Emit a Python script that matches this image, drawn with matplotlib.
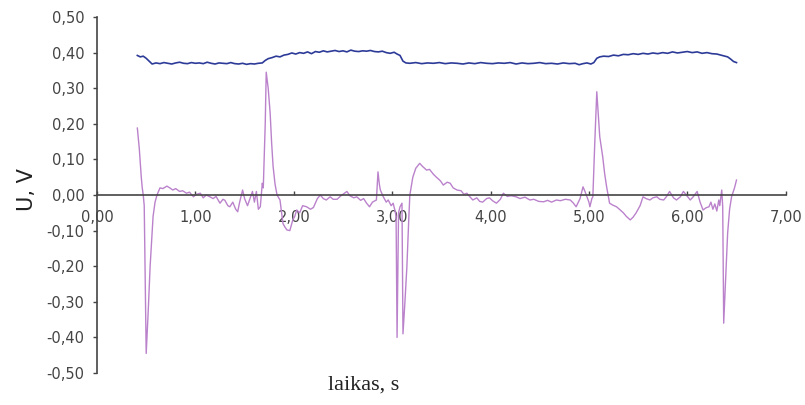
import numpy as np
import matplotlib
matplotlib.use('Agg')
import matplotlib.pyplot as plt
from matplotlib.ticker import FuncFormatter

# upper trace (blue), (time s, voltage V)
blue_pts = [
    (0.41, 0.392), (0.44, 0.388), (0.47, 0.390), (0.50, 0.384), (0.53, 0.376), (0.56, 0.368),
    (0.60, 0.371), (0.64, 0.369), (0.68, 0.372), (0.72, 0.370), (0.76, 0.368), (0.80, 0.371),
    (0.84, 0.373), (0.88, 0.370), (0.92, 0.369), (0.96, 0.372), (1.00, 0.370), (1.04, 0.371),
    (1.08, 0.369), (1.12, 0.373), (1.16, 0.370), (1.20, 0.368), (1.24, 0.371), (1.28, 0.370),
    (1.32, 0.369), (1.36, 0.372), (1.40, 0.369), (1.44, 0.368), (1.48, 0.370), (1.52, 0.367),
    (1.56, 0.369), (1.60, 0.368), (1.64, 0.370), (1.68, 0.371), (1.71, 0.378), (1.74, 0.383),
    (1.78, 0.386), (1.82, 0.390), (1.86, 0.388), (1.90, 0.393), (1.94, 0.395), (1.98, 0.399),
    (2.02, 0.396), (2.06, 0.400), (2.10, 0.398), (2.14, 0.402), (2.18, 0.397), (2.22, 0.403),
    (2.26, 0.401), (2.30, 0.405), (2.34, 0.402), (2.38, 0.404), (2.42, 0.406), (2.46, 0.403),
    (2.50, 0.405), (2.54, 0.402), (2.58, 0.407), (2.62, 0.404), (2.66, 0.403), (2.70, 0.405),
    (2.74, 0.404), (2.78, 0.406), (2.82, 0.403), (2.86, 0.402), (2.90, 0.404), (2.94, 0.400),
    (2.98, 0.398), (3.02, 0.401), (3.05, 0.396), (3.08, 0.392), (3.11, 0.376), (3.14, 0.371),
    (3.18, 0.370), (3.24, 0.372), (3.30, 0.369), (3.36, 0.371), (3.42, 0.370), (3.48, 0.372),
    (3.54, 0.369), (3.60, 0.371), (3.66, 0.370), (3.72, 0.368), (3.78, 0.371), (3.84, 0.369),
    (3.90, 0.372), (3.96, 0.370), (4.02, 0.369), (4.08, 0.371), (4.14, 0.370), (4.20, 0.372),
    (4.26, 0.368), (4.32, 0.371), (4.38, 0.369), (4.44, 0.370), (4.50, 0.372), (4.56, 0.369),
    (4.62, 0.370), (4.68, 0.368), (4.74, 0.371), (4.80, 0.369), (4.86, 0.370), (4.90, 0.366),
    (4.94, 0.369), (4.98, 0.371), (5.02, 0.368), (5.05, 0.372), (5.08, 0.384), (5.11, 0.388),
    (5.15, 0.390), (5.20, 0.389), (5.25, 0.393), (5.30, 0.391), (5.35, 0.395), (5.40, 0.394),
    (5.45, 0.397), (5.50, 0.395), (5.55, 0.398), (5.60, 0.396), (5.65, 0.399), (5.70, 0.397),
    (5.75, 0.400), (5.80, 0.398), (5.85, 0.402), (5.90, 0.399), (5.95, 0.401), (6.00, 0.403),
    (6.05, 0.400), (6.10, 0.402), (6.15, 0.398), (6.20, 0.400), (6.25, 0.397), (6.30, 0.396),
    (6.34, 0.393), (6.38, 0.390), (6.41, 0.388), (6.44, 0.382), (6.47, 0.375), (6.50, 0.372),
]

# lower trace (purple)
purple_pts = [
    (0.41, 0.188), (0.43, 0.130), (0.45, 0.050), (0.46, 0.020), (0.47, 0.000), (0.48, -0.030),
    (0.50, -0.445), (0.52, -0.330), (0.54, -0.200), (0.57, -0.060), (0.59, -0.020), (0.61, 0.000),
    (0.64, 0.020), (0.67, 0.018), (0.71, 0.025), (0.74, 0.020), (0.77, 0.014), (0.80, 0.018),
    (0.84, 0.010), (0.87, 0.012), (0.91, 0.005), (0.94, 0.008), (0.98, -0.005), (1.01, 0.002),
    (1.05, 0.005), (1.08, -0.008), (1.11, 0.000), (1.14, -0.004), (1.18, -0.010), (1.21, -0.004),
    (1.25, -0.023), (1.28, -0.012), (1.30, -0.015), (1.33, -0.030), (1.35, -0.033), (1.38, -0.020),
    (1.41, -0.040), (1.43, -0.047), (1.45, -0.020), (1.48, 0.014), (1.50, -0.010), (1.53, -0.030),
    (1.55, -0.014), (1.58, 0.010), (1.60, -0.020), (1.62, 0.010), (1.64, -0.040), (1.66, -0.033),
    (1.68, 0.033), (1.69, 0.020), (1.71, 0.200), (1.72, 0.345), (1.74, 0.300), (1.76, 0.230),
    (1.775, 0.146), (1.79, 0.080), (1.81, 0.030), (1.83, 0.000), (1.86, -0.014), (1.89, -0.080),
    (1.91, -0.090), (1.93, -0.098), (1.96, -0.100), (1.99, -0.070), (2.01, -0.060), (2.03, -0.042),
    (2.06, -0.050), (2.09, -0.030), (2.13, -0.033), (2.17, -0.040), (2.20, -0.035), (2.24, -0.010),
    (2.27, 0.000), (2.30, -0.010), (2.33, -0.014), (2.37, -0.005), (2.40, -0.012), (2.44, -0.012),
    (2.48, -0.002), (2.51, 0.004), (2.54, 0.010), (2.57, -0.002), (2.61, -0.008), (2.64, -0.005),
    (2.68, -0.015), (2.71, -0.010), (2.74, -0.023), (2.77, -0.033), (2.80, -0.020), (2.84, -0.014),
    (2.856, 0.065), (2.87, 0.030), (2.88, 0.014), (2.91, -0.005), (2.94, -0.020), (2.96, -0.014),
    (2.99, -0.030), (3.01, -0.023), (3.03, -0.045), (3.04, -0.060), (3.05, -0.400), (3.065, -0.050),
    (3.08, -0.033), (3.10, -0.023), (3.11, -0.390), (3.13, -0.300), (3.15, -0.200), (3.17, -0.060),
    (3.18, 0.000), (3.21, 0.050), (3.24, 0.075), (3.28, 0.089), (3.31, 0.080), (3.35, 0.070),
    (3.38, 0.072), (3.42, 0.058), (3.45, 0.050), (3.49, 0.040), (3.52, 0.028), (3.56, 0.036),
    (3.59, 0.033), (3.62, 0.020), (3.66, 0.014), (3.70, 0.012), (3.73, 0.002), (3.76, 0.005),
    (3.79, -0.005), (3.82, -0.014), (3.86, -0.008), (3.89, -0.018), (3.92, -0.020), (3.96, -0.010),
    (3.99, -0.008), (4.02, -0.016), (4.06, -0.023), (4.10, -0.012), (4.13, 0.005), (4.17, -0.004),
    (4.21, -0.002), (4.26, -0.005), (4.30, -0.010), (4.35, -0.006), (4.40, -0.014), (4.44, -0.012),
    (4.49, -0.018), (4.54, -0.019), (4.58, -0.015), (4.62, -0.020), (4.67, -0.014), (4.71, -0.016),
    (4.76, -0.012), (4.81, -0.014), (4.84, -0.022), (4.87, -0.033), (4.91, -0.010), (4.94, 0.023),
    (4.96, 0.010), (4.98, -0.005), (5.00, -0.020), (5.01, -0.033), (5.03, -0.010), (5.04, -0.005),
    (5.06, 0.150), (5.08, 0.290), (5.11, 0.164), (5.14, 0.108), (5.16, 0.060), (5.18, 0.023),
    (5.21, -0.023), (5.24, -0.028), (5.28, -0.033), (5.31, -0.040), (5.35, -0.050), (5.38, -0.060),
    (5.42, -0.070), (5.45, -0.062), (5.48, -0.050), (5.52, -0.030), (5.55, -0.005), (5.58, -0.010),
    (5.62, -0.014), (5.65, -0.008), (5.69, -0.005), (5.72, -0.012), (5.76, -0.014), (5.79, -0.004),
    (5.82, 0.010), (5.86, -0.008), (5.89, -0.014), (5.93, -0.005), (5.96, 0.010), (5.99, 0.000),
    (6.03, -0.014), (6.06, -0.005), (6.10, 0.010), (6.13, -0.020), (6.16, -0.042), (6.19, -0.036),
    (6.22, -0.033), (6.24, -0.020), (6.26, -0.040), (6.28, -0.025), (6.30, -0.045), (6.32, -0.014),
    (6.33, -0.030), (6.35, 0.014), (6.36, -0.033), (6.37, -0.360), (6.39, -0.230), (6.41, -0.107),
    (6.43, -0.040), (6.45, -0.005), (6.48, 0.020), (6.50, 0.042),
]

xticks = [0, 1, 2, 3, 4, 5, 6, 7]
yticks = [-0.5, -0.4, -0.3, -0.2, -0.1, 0.0, 0.1, 0.2, 0.3, 0.4, 0.5]

blue_t, blue_v = zip(*blue_pts)
purple_t, purple_v = zip(*purple_pts)

fig = plt.figure(figsize=(8.05, 4.05), dpi=100)
ax = fig.add_axes([0.1205, 0.079, 0.8555, 0.879])

ax.plot(purple_t, purple_v, color='#bb82cc', lw=1.0)
ax.plot(blue_t, blue_v, color='#2d3b98', lw=1.2)

ax.set_xlim(0, 7)
ax.set_ylim(-0.5, 0.5)
ax.set_xticks(xticks)
ax.set_yticks(yticks)
comma = FuncFormatter(lambda v, p: ('%.2f' % v).replace('.', ','))
ax.xaxis.set_major_formatter(comma)
ax.yaxis.set_major_formatter(comma)

for s in ['top', 'right']:
    ax.spines[s].set_visible(False)
ax.spines['bottom'].set_position(('data', 0))
ax.spines['bottom'].set_color('#444444')
ax.spines['left'].set_color('#444444')
ax.spines['bottom'].set_linewidth(1.2)
ax.spines['left'].set_linewidth(1.2)

ax.tick_params(axis='x', direction='in', length=3, width=1, color='#444444',
               pad=11, labelsize=10.5, labelcolor='#444444')
ax.tick_params(axis='y', direction='out', length=3, width=1, color='#444444',
               pad=6, labelsize=10.5, labelcolor='#444444')

fig.text(27 / 805, 1 - 190 / 405, 'U, V', rotation=90, ha='center', va='center',
         fontsize=15, color='#222222')
fig.text(364 / 805, 1 - 385 / 405, 'laikas, s', ha='center', va='center',
         fontsize=16, family='Liberation Serif', color='#222222')

fig.savefig('out.png', dpi=100)
